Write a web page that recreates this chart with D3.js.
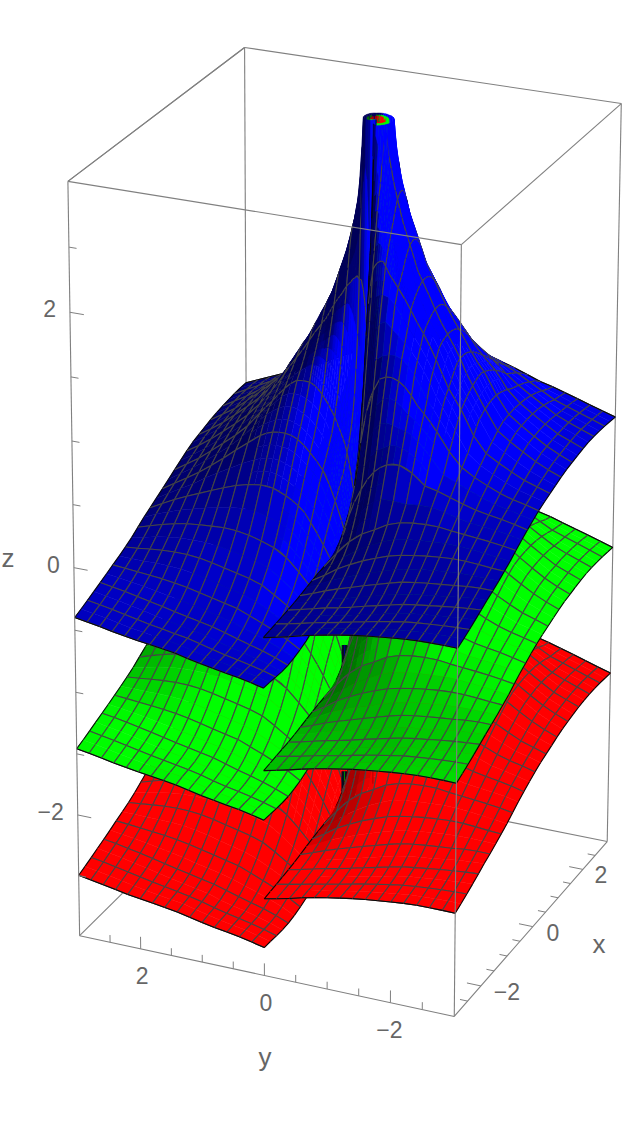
<!DOCTYPE html>
<html><head><meta charset="utf-8">
<style>html,body{margin:0;padding:0;background:#fff}svg{display:block}text{font-family:"Liberation Sans",Arial,sans-serif;fill:#666}</style>
<script src="https://cdn.jsdelivr.net/npm/d3@7"></script></head><body><script>
// ---- values ----
const sheetNames=["red","green","blue"];
const sheetOffset=[-2.1,-1.06,0];
const sheetRGB=[[255,0,0],[0,255,0],[0,0,255]];
const sheetGain=[1.85,1.3,1.0];
const baseX=[-3,-2,-1,0,1,2,3];
const baseY=[0,1,2,3];
const baseUpper=[[-.67,-.76,-.78,-.75],[-.67,-.76,-.76,-.74],[-.53,-.55,-.62,-.76],[-.15,-.15,-.51,-.76],[-.25,-.3,-.57,-.75],[-.27,-.41,-.57,-.71],[-.4,-.52,-.61,-.66]];
const baseLower=[[-.27,-.37,-.46,-.53],[-.23,-.42,-.5,-.53],[-.17,-.34,-.46,-.52],[-.15,-.23,-.45,-.5],[-.25,-.24,-.44,-.51],[-.27,-.34,-.43,-.47],[-.4,-.42,-.43,-.44]];
const spikeAt=[1,0];
const liftRadius=[.05,.1,.2,.25,.3,.37,.5,.74,1.08,1.5,1.9,2.7,3.6,5,6.5];
const liftHeight=[8.3,5.9,3.9,3.28,3.0,2.78,2.5,2.12,1.79,1.52,1.35,1.13,.98,.83,.73];
const gainAngle=[0,45,90,120,135,150,160,170,175,180];
const gainLower=[1,1,.92,.78,.66,.48,.33,.17,.08,0];
const gainUpper=[1,1,.85,.66,.5,.36,.28,.15,.08,0];
const ridgeRadius=[.4,.7,1,1.5,2];
const ridgeSqueeze=[6,4,2.5,1.5,1];
const xMesh=d3.range(15).map(i=>-3+i*6/14);
const yMesh=d3.range(16).map(i=>i*.2);
const pitAt=[-.1,0];
const pitSpan=[.25,-.3];
const minorTicks=[-2.5,-1.5,-1,-.5,.5,1,1.5,2.5];
const majorTicks=[-2,0,2];
const xLabelShift=new Map([[-2,26],[0,20],[2,18]]);
// camera calibration: box corners [x,y,z] and where they land on the page
const boxCorners=[[-3,3,-3],[-3,-3,-3],[3,-3,-3],[3,3,-3],[-3,3,3],[-3,-3,3],[3,-3,3],[3,3,3]];
const boxPage=[[82,937],[454,1016],[608,842],[245,768],[67,182],[460,243],[622,105],[246,47]];
// ---- projection fit ----
function fit(){const A=[],b=[];boxCorners.forEach((c,i)=>{const [X,Y,Z]=c,[u,v]=boxPage[i];
 A.push([X,Y,Z,1,0,0,0,0,-u*X,-u*Y,-u*Z]);b.push(u);A.push([0,0,0,0,X,Y,Z,1,-v*X,-v*Y,-v*Z]);b.push(v);});
 const n=11,M=d3.range(n).map(r=>d3.range(n+1).map(c=>c<n?d3.sum(A,a=>a[r]*a[c]):d3.sum(A,(a,k)=>a[r]*b[k])));
 for(let i=0;i<n;i++){let p=i;for(let r=i+1;r<n;r++)if(Math.abs(M[r][i])>Math.abs(M[p][i]))p=r;[M[i],M[p]]=[M[p],M[i]];
  for(let r=0;r<n;r++)if(r!==i){const f=M[r][i]/M[i][i];for(let c=i;c<=n;c++)M[r][c]-=f*M[i][c];}}
 return M.map((r,i)=>r[n]/r[i]);}
const H=fit();
const W=(x,y,z)=>H[8]*x+H[9]*y+H[10]*z+1;
const P=(x,y,z)=>{const w=W(x,y,z);return[(H[0]*x+H[1]*y+H[2]*z+H[3])/w,(H[4]*x+H[5]*y+H[6]*z+H[7])/w];};
const depthSign=W(3,3,-3)>W(-3,-3,3)?1:-1;
const area=p=>d3.polygonArea(p);
const upSign=Math.sign(area([P(0,0,0),P(.1,0,0),P(.1,.1,0),P(0,.1,0)]));
// ---- surface ----
const liftScale=d3.scaleLinear().domain(liftRadius).range(liftHeight).clamp(true);
const gainU=d3.scaleLinear().domain(gainAngle).range(gainUpper).clamp(true);
const gainL=d3.scaleLinear().domain(gainAngle).range(gainLower).clamp(true);
const squeeze=d3.scaleLinear().domain(ridgeRadius).range(ridgeSqueeze).clamp(true);
const cr=(a,b,c,d,t)=>.5*(2*b+(c-a)*t+(2*a-5*b+4*c-d)*t*t+(3*b-a-3*c+d)*t*t*t);
function axisCR(vals,coord,u){const n=coord.length;let i=Math.min(n-2,Math.max(0,d3.bisectRight(coord,u)-1));const t=(u-coord[i])/(coord[i+1]-coord[i]);
 const g=k=>k<0?2*vals[0]-vals[1]:k>=n?2*vals[n-1]-vals[n-2]:vals[k];return cr(g(i-1),g(i),g(i+1),g(i+2),t);}
function baseZ(T,x,ay){return axisCR(baseX.map((_,i)=>axisCR(T[i],baseY,ay)),baseX,x);}
function surf(side,x,y){const dx=x-spikeAt[0],dy=y-spikeAt[1],r=Math.hypot(dx,dy);
 const th=(Math.abs(y)<1e-9&&x<spikeAt[0])?180:Math.abs(Math.atan2(dy,dx))*180/Math.PI;
 const gain=side>0?gainU(th):gainL(180-(180-th)*squeeze(r));
 return baseZ(side>0?baseUpper:baseLower,x,Math.abs(y))+liftScale(r)*gain;}
function colour(k,zx,zy,side){const l=Math.hypot(zx,zy,1),nrmX=-zx/l,nrmY=-zy/l;
 let B=nrmY>0?.66-.8*nrmY:.66-1.1*nrmY;
 if(side<0)B+=1.1*Math.max(0,nrmX);
 B=Math.max(.35,Math.min(1,B))*sheetGain[k];B=Math.min(1,B);
 return d3.rgb(...sheetRGB[k].map(v=>v*B)).formatRgb();}
function clipTop(poly){const out=[];poly.forEach((a,i)=>{const b=poly[(i+1)%poly.length];
 if(a[2]<=3)out.push(a);
 if((a[2]<=3)!==(b[2]<=3)){const t=(3-a[2])/(b[2]-a[2]);out.push([a[0]+t*(b[0]-a[0]),a[1]+t*(b[1]-a[1]),3]);}});return out;}
const layers=[[],[],[],[]]; // 0: faces seen from underneath, 1..3 front faces per sheet
const seg=(p,q)=>`M${p[0].toFixed(1)},${p[1].toFixed(1)}L${q[0].toFixed(1)},${q[1].toFixed(1)}`;
const nx=xMesh.length-1,ny=yMesh.length-1;
[0,1,2].forEach(k=>{[1,-1].forEach(side=>{
 const z=(X,Y)=>surf(side,X,Y)+sheetOffset[k];
 for(let i=0;i<nx;i++)for(let j=0;j<ny;j++){
  const x0=xMesh[i],x1=xMesh[i+1],y0=yMesh[j],y1=yMesh[j+1];
  const d=Math.hypot((x0+x1)/2-spikeAt[0],(y0+y1)/2);
  const sx=d<.9?8:d<1.8?4:2, sy=d<.9?6:d<1.8?2:1;
  for(let a=0;a<sx;a++)for(let b=0;b<sy;b++){
   const xa=x0+(x1-x0)*a/sx,xb=x0+(x1-x0)*(a+1)/sx,ya=side*(y0+(y1-y0)*b/sy),yb=side*(y0+(y1-y0)*(b+1)/sy);
   const q=[[xa,ya,z(xa,ya)],[xb,ya,z(xb,ya)],[xb,yb,z(xb,yb)],[xa,yb,z(xa,yb)]];
   if(d3.min(q,v=>v[2])>3)continue;
   const zs=q.map(v=>v[2]);
   const clipped=d3.max(zs)>3?clipTop(q):q;
   const full=q.map(v=>P(...v));
   const pts=clipped.map(v=>P(...v));
   const cx=(xa+xb)/2,cy=(ya+yb)/2,cz=d3.mean(clipped,v=>v[2]);
   const zx=((zs[1]-zs[0])+(zs[2]-zs[3]))/2/(xb-xa),zy=((zs[3]-zs[0])+(zs[2]-zs[1]))/2/(yb-ya);
   let lines="",edge="";
   const faces=area(full)*side*upSign>0;
   if(d3.max(zs)<=3){
    if(a===0)lines+=seg(full[0],full[3]);
    if(a===sx-1)lines+=seg(full[1],full[2]);
    if(b===0){if(j===0&&xa<1)edge+=seg(full[0],full[1]);else if(j>0)lines+=seg(full[0],full[1]);}
    if(b===sy-1){if(j===ny-1)edge+=seg(full[3],full[2]);else lines+=seg(full[3],full[2]);}
    if(a===0&&i===0)edge+=seg(full[0],full[3]);
    if(a===sx-1&&i===nx-1)edge+=seg(full[1],full[2]);
   }
   // fold line: where the lower half turns away from the viewer
   if(side<0&&faces&&xa<1.2&&Math.abs(ya)>1e-9&&d3.max(zs)<=3){
    const yq=Math.min(0,ya-(yb-ya));
    const nb=[[xa,yq],[xb,yq],[xb,ya],[xa,ya]].map(v=>P(v[0],v[1],z(v[0],v[1])));
    if(area(nb)*side*upSign<=0)edge+=seg(full[0],full[1]);
   }
   layers[faces?k+1:0].push({side,depth:depthSign*W(cx,cy,cz),d:"M"+pts.map(p=>p[0].toFixed(1)+","+p[1].toFixed(1)).join("L")+"Z",fill:colour(k,zx,zy,side),lines,edge});
  }}
 });
 if(k<2){
  const z0=baseZ(baseLower,0,0)+sheetOffset[k];
  const a=P(pitAt[0],pitAt[1],z0+pitSpan[0]),b=P(pitAt[0],pitAt[1],z0+pitSpan[1]);
  layers[k+1].push({side:0,depth:0,pit:true,d:`M${a[0]},${a[1]}L${b[0]},${b[1]}`,inner:d3.rgb(...sheetRGB[k+1].map(v=>v*.55)).formatRgb()});
 }
});
// upper half first, then the slit at the origin, then the lower half, each far to near
layers.forEach(l=>l.sort((p,q)=>(q.side-p.side)||(q.depth-p.depth)));
// ---- draw ----
const svg=d3.select("body").append("svg").attr("width",623).attr("height",1124);
const line3=(g,a,b,w=1,c="#808080")=>{const p=P(...a),q=P(...b);g.append("line").attr("x1",p[0]).attr("y1",p[1]).attr("x2",q[0]).attr("y2",q[1]).attr("stroke",c).attr("stroke-width",w);};
const back=svg.append("g");
[[[3,3,-3],[-3,3,-3]],[[3,3,-3],[3,-3,-3]],[[3,3,-3],[3,3,3]],[[3,3,3],[-3,3,3]],[[3,3,3],[3,-3,3]],[[3,-3,3],[3,-3,-3]]].forEach(e=>line3(back,e[0],e[1],1.1));
const surfG=svg.append("g");
layers.flat().forEach(it=>{
 if(it.pit){surfG.append("path").attr("d",it.d).attr("stroke","#050a20").attr("stroke-width",6).attr("fill","none");
  surfG.append("path").attr("d",it.d).attr("stroke",it.inner).attr("stroke-width",1).attr("fill","none");return;}
 surfG.append("path").attr("d",it.d).attr("fill",it.fill).attr("stroke",it.fill).attr("stroke-width",.5);
 if(it.lines)surfG.append("path").attr("d",it.lines).attr("fill","none").attr("stroke","#454545").attr("stroke-width",1.1);
 if(it.edge)surfG.append("path").attr("d",it.edge).attr("fill","none").attr("stroke","#080808").attr("stroke-width",1.1);
});
const front=svg.append("g");
[[[-3,3,-3],[-3,-3,-3]],[[-3,-3,-3],[3,-3,-3]],[[-3,3,-3],[-3,3,3]],[[-3,-3,-3],[-3,-3,3]],[[-3,3,3],[-3,-3,3]],[[-3,-3,3],[3,-3,3]],[[-3,3,3],[3,3,3]]].forEach(e=>line3(front,e[0],e[1],1.1));
minorTicks.concat(majorTicks).forEach(t=>{const maj=majorTicks.includes(t);
 line3(front,[-3,3,t],[-3,3-(maj?.22:.12),t]);
 line3(front,[-3,t,-3],[-3,t,-3+(maj?.1:.06)]);
 line3(front,[t,-3,-3],[t,-3+(maj?.22:.12),-3]);});
const tl=t=>t<0?"\u2212"+(-t):""+t;
majorTicks.forEach(t=>{
 let p=P(-3,3,t);front.append("text").attr("x",p[0]-14).attr("y",p[1]+5).attr("text-anchor","end").attr("font-size",23).text(tl(t));
 p=P(-3,t,-3);front.append("text").attr("x",p[0]+(t<0?-1:1.5)).attr("y",p[1]+35).attr("text-anchor","middle").attr("font-size",23).text(tl(t));
 p=P(t,-3,-3);front.append("text").attr("x",p[0]+xLabelShift.get(t)).attr("y",p[1]+14).attr("text-anchor","middle").attr("font-size",23).text(tl(t));});
[["x",599,953],["y",265,1066],["z",8,567]].forEach(d=>front.append("text").attr("x",d[1]).attr("y",d[2]).attr("text-anchor","middle").attr("font-size",26).text(d[0]));
</script></body></html>
